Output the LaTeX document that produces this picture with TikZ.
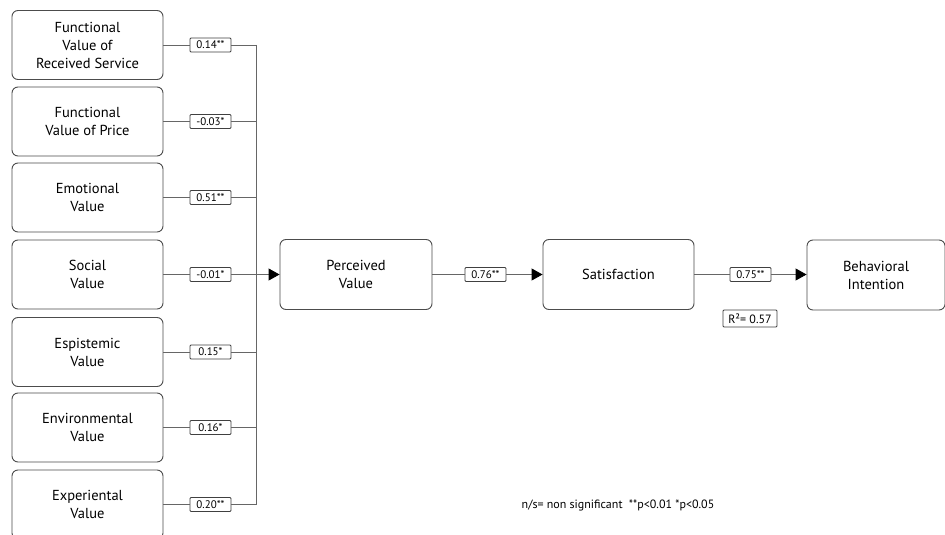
\documentclass[tikz,border=0pt]{standalone}
\usepackage{fontspec}
\setmainfont{PT Sans}
\usetikzlibrary{arrows.meta}
\begin{document}
\begin{tikzpicture}[x=1pt,y=-1pt,
  box/.style={draw=black!70,line width=0.9pt,rounded corners=6pt,minimum width=151pt,minimum height=69pt,align=center,font=\fontsize{14.5}{18}\selectfont,inner sep=0pt},
  coef/.style={draw=black!75,line width=0.8pt,rounded corners=1pt,minimum width=41pt,minimum height=14pt,inner sep=0.5pt,font=\fontsize{11}{12}\selectfont},
  wire/.style={draw=black!60,line width=0.9pt},
  arr/.style={wire,-{Triangle[length=11pt,width=12pt,color=black]}}]
\clip (0,0) rectangle (945,535);
\fill[white] (0,0) rectangle (945,535);
% left boxes
\node[box] (b1) at (87.5,45) {Functional\\Value of\\Received Service};
\node[box] (b2) at (87.5,121.5) {Functional\\Value of Price};
\node[box] (b3) at (87.5,197.5) {Emotional\\Value};
\node[box] (b4) at (87.5,274.5) {Social\\Value};
\node[box] (b5) at (87.5,352) {Espistemic\\Value};
\node[box] (b6) at (87.5,427.5) {Environmental\\Value};
\node[box] (b7) at (87.5,504.5) {Experiental\\Value};
% coefficient labels
\node[coef] (c1) at (210.5,45) {0.14**};
\node[coef] (c2) at (210.5,121.5) {-0.03*};
\node[coef] (c3) at (210.5,197.5) {0.51**};
\node[coef] (c4) at (210.5,274.5) {-0.01*};
\node[coef] (c5) at (210.5,352) {0.15*};
\node[coef] (c6) at (210.5,427.5) {0.16*};
\node[coef] (c7) at (210.5,504.5) {0.20**};
% bus
\coordinate (t1) at (256,45);
\coordinate (t2) at (256,121.5);
\coordinate (t3) at (256,197.5);
\coordinate (t4) at (256,274.5);
\coordinate (t5) at (256,352);
\coordinate (t6) at (256,427.5);
\coordinate (t7) at (256,504.5);
\foreach \i in {1,...,7}{
  \draw[wire] (b\i.east) -- (c\i.west);
  \draw[wire] (c\i.east) -- (t\i);
}
\draw[wire] (t1) -- (t7);
% main chain
\node[box,minimum width=152pt,minimum height=70pt] (pv) at (356,274.5) {Perceived\\Value};
\node[box,minimum width=151pt,minimum height=70pt] (sat) at (618.5,274.5) {Satisfaction};
\node[box,minimum width=138pt,minimum height=70pt] (bi) at (876,275) {Behavioral\\Intention};
\draw[arr] (t4) -- (pv.west);
\node[coef] (c8) at (485.5,274.5) {0.76**};
\node[coef] (c9) at (750.5,274.5) {0.75**};
\draw[wire] (pv.east) -- (c8.west);
\draw[arr] (c8.east) -- (sat.west);
\draw[wire] (sat.east) -- (c9.west);
\draw[arr] (c9.east) -- (bi.west |- c9.east);
\node[coef,minimum width=54pt,minimum height=17pt,font=\fontsize{12}{13}\selectfont] (r2) at (750,318.5) {R²= 0.57};
\node[font=\fontsize{12}{14}\selectfont] (note) at (618,505) {n/s= non significant\ \ **p<0.01 *p<0.05};
\end{tikzpicture}
\end{document}
